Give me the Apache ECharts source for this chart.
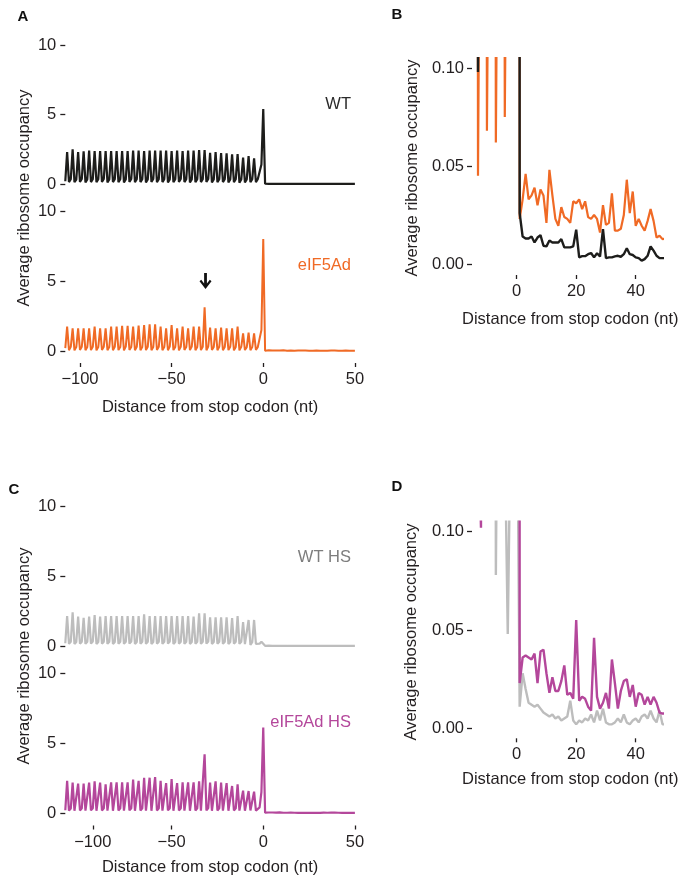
<!DOCTYPE html>
<html><head><meta charset="utf-8">
<script src="https://cdn.jsdelivr.net/npm/echarts@6/dist/echarts.min.js"></script>
<style>html,body{margin:0;padding:0;background:#fff}#c{width:691px;height:884px}</style>
</head><body><div id="c"></div>
<script>
// ---------- DATA ----------
// Profile layout: first nt = -108 (lead value), then 35 codons (peak, dip, mid) at -107..-3,
// then the three stop-region values at -2,-1,0, then tail values at +1..+50.
const firstNt = -108;
const fullTicks = [-100, -50, 0, 50];
const fullTickLabels = ['\u2212100', '\u221250', '0', '50'];
// panel C: in the reference the "−100" tick sits a little right of the true -100 position
const cTicks = [-93, -50, 0, 50];
const cTickLabels = ['\u2212100', '\u221250', '0', '50'];
const zoomTicks = [0, 20, 40];
const occTicks = [0, 5, 10];
const zoomOccTicks = [0, 0.05, 0.10];

// WT
const wtLead = 0.2;
const wtPeaks = [2.3,2.5,2.3,2.35,2.4,2.37,2.37,2.37,2.37,2.37,2.37,2.37,2.4,2.4,2.37,2.4,2.4,2.4,2.4,2.37,2.4,2.37,2.4,2.4,2.45,2.45,2.25,2.3,2.22,2.2,2.13,2.15,1.9,2.0,1.85];
const wtDips  = [0.14,0.13,0.15,0.12,0.14,0.13,0.15,0.12,0.14,0.13,0.12,0.15,0.13,0.14,0.12,0.15,0.13,0.14,0.12,0.13,0.15,0.14,0.12,0.13,0.14,0.15,0.12,0.13,0.14,0.12,0.13,0.098,0.12,0.14,0.13];
const wtMids  = [0.35,0.32,0.36,0.33,0.35,0.34,0.36,0.33,0.35,0.34,0.33,0.36,0.34,0.35,0.33,0.36,0.34,0.35,0.33,0.34,0.36,0.35,0.33,0.34,0.35,0.36,0.33,0.34,0.35,0.33,0.34,0.32,0.33,0.35,0.34];
const wtStop  = [0.45, 1.4, 5.4];
const wtTail  = [0.026,0.014,0.013,0.013,0.014,0.011,0.0135,0.0147,0.0093,0.009,0.012,0.011,0.011,0.011,0.0127,0.0085,0.0085,0.0085,0.009,0.0175,0.0034,0.004,0.004,0.005,0.0056,0.0034,0.0055,0.0038,0.0178,0.003,0.0034,0.0034,0.0039,0.0042,0.0037,0.005,0.008,0.005,0.0046,0.0034,0.003,0.0017,0.0025,0.0042,0.009,0.0068,0.0042,0.003,0.003,0.003];

// eIF5Ad
const ofLead = 0.2;
const ofPeaks = [1.74,1.62,1.62,1.62,1.62,1.74,1.62,1.62,1.74,1.74,1.79,1.79,1.74,1.81,1.86,1.9,1.9,1.74,1.62,1.86,1.62,1.74,1.62,1.74,1.74,3.12,1.67,1.62,1.67,1.62,1.62,1.74,1.26,1.31,1.26];
const ofDips  = [0.06,0.05,0.07,0.055,0.065,0.05,0.07,0.06,0.055,0.065,0.05,0.07,0.06,0.055,0.065,0.05,0.07,0.06,0.055,0.065,0.05,0.07,0.06,0.055,0.065,0.05,0.07,0.06,0.055,0.065,0.05,0.045,0.068,0.062,0.075];
const ofMids  = [0.3,0.28,0.31,0.29,0.3,0.28,0.31,0.29,0.3,0.28,0.31,0.29,0.3,0.28,0.31,0.29,0.3,0.28,0.31,0.29,0.3,0.28,0.31,0.29,0.3,0.32,0.29,0.3,0.28,0.31,0.29,0.3,0.27,0.28,0.27];
const ofStop  = [0.4, 1.5, 8.0];
const ofTail  = [0.0229,0.033,0.046,0.033,0.035,0.039,0.030,0.038,0.035,0.021,0.048,0.035,0.023,0.0195,0.029,0.024,0.023,0.021,0.032,0.031,0.033,0.028,0.032,0.024,0.023,0.025,0.023,0.016,0.030,0.020,0.021,0.036,0.017,0.017,0.018,0.025,0.043,0.026,0.037,0.0195,0.023,0.0195,0.017,0.022,0.028,0.022,0.0135,0.0144,0.0127,0.013];

// WT HS
const grLead = 0.2;
const grPeaks = [2.14,2.4,2.1,2.02,2.1,2.21,2.1,2.14,2.14,2.14,2.14,2.14,2.14,2.14,2.26,2.14,2.14,2.14,2.14,2.14,2.14,2.14,2.14,2.1,2.33,2.33,2.05,2.05,2.05,2.05,2.0,2.14,1.7,1.86,1.86];
const grDips  = [0.15,0.14,0.16,0.15,0.17,0.14,0.16,0.15,0.14,0.16,0.15,0.17,0.14,0.16,0.15,0.14,0.16,0.15,0.17,0.14,0.16,0.15,0.14,0.16,0.15,0.17,0.14,0.16,0.15,0.14,0.16,0.15,0.14,0.078,0.15];
const grMids  = [0.3,0.29,0.31,0.3,0.32,0.29,0.31,0.3,0.29,0.31,0.3,0.32,0.29,0.31,0.3,0.29,0.31,0.3,0.32,0.29,0.31,0.3,0.29,0.31,0.3,0.32,0.29,0.31,0.3,0.29,0.31,0.3,0.28,0.27,0.048];
const grStop  = [0.16, 0.31, 0.2];
const grTail  = [0.011,0.028,0.020,0.013,0.012,0.011,0.012,0.010,0.008,0.007,0.006,0.007,0.005,0.006,0.004,0.005,0.006,0.014,0.004,0.002,0.004,0.003,0.005,0.004,0.007,0.003,0.009,0.004,0.010,0.003,0.002,0.002,0.003,0.005,0.003,0.007,0.003,0.002,0.004,0.005,0.003,0.006,0.007,0.005,0.009,0.005,0.003,0.009,0.002,0.002];

// eIF5Ad HS
const mgLead = 0.2;
const mgPeaks = [2.29,2.17,2.1,2.1,2.17,2.26,2.17,2.05,2.19,2.19,2.19,2.19,2.38,2.29,2.52,2.52,2.57,2.29,2.14,2.43,2.14,2.19,2.19,2.19,2.26,4.19,2.17,2.26,2.17,2.14,1.93,2.05,1.6,1.57,1.52];
const mgDips  = [0.17,0.16,0.18,0.17,0.19,0.16,0.18,0.17,0.16,0.18,0.17,0.19,0.16,0.18,0.17,0.16,0.18,0.17,0.19,0.16,0.18,0.17,0.16,0.18,0.17,0.19,0.16,0.18,0.17,0.16,0.18,0.17,0.16,0.18,0.17];
const mgMids  = [0.32,0.3,0.33,0.31,0.34,0.3,0.33,0.31,0.3,0.33,0.31,0.34,0.3,0.33,0.31,0.3,0.33,0.31,0.34,0.3,0.33,0.31,0.3,0.33,0.31,0.36,0.3,0.33,0.31,0.3,0.33,0.102,0.3,0.29,0.28];
const mgStop  = [0.4, 1.5, 6.1];
const mgTail  = [0.023,0.036,0.037,0.036,0.035,0.038,0.023,0.039,0.040,0.028,0.018,0.026,0.019,0.019,0.024,0.032,0.017,0.018,0.015,0.055,0.014,0.016,0.015,0.011,0.009,0.046,0.016,0.010,0.013,0.018,0.010,0.035,0.023,0.010,0.019,0.024,0.025,0.016,0.022,0.011,0.018,0.017,0.012,0.016,0.012,0.016,0.013,0.008,0.0075,0.0075];

// ---------- build [nt, value] pairs ----------
function buildProfile(lead, peaks, dips, mids, stop, tail) {
  const pts = [];
  let nt = firstNt;
  pts.push([nt++, lead]);
  for (let i = 0; i < peaks.length; i++) {
    pts.push([nt++, peaks[i]]);
    pts.push([nt++, dips[i]]);
    pts.push([nt++, mids[i]]);
  }
  stop.forEach(v => pts.push([nt++, v]));
  tail.forEach(v => pts.push([nt++, v]));
  return pts;
}
const wt = buildProfile(wtLead, wtPeaks, wtDips, wtMids, wtStop, wtTail);
const of = buildProfile(ofLead, ofPeaks, ofDips, ofMids, ofStop, ofTail);
const gr = buildProfile(grLead, grPeaks, grDips, grMids, grStop, grTail);
const mg = buildProfile(mgLead, mgPeaks, mgDips, mgMids, mgStop, mgTail);

// ---------- styles ----------
const FONT = 'Liberation Sans, Arial, Helvetica, sans-serif';
const INK = '#231f20';
const C_WT = '#1d1d1b', C_OF = '#f06a25', C_GR = '#bdbdbd', C_MG = '#b4479b';
const FS = 16.5;
const XNAME = 'Distance from stop codon (nt)';
const YNAME = 'Average ribosome occupancy';
const labeller = (ticks, labels) => v => {
  const i = ticks.indexOf(v);
  return i >= 0 ? labels[i] : '';
};

const FULL = {left: 65.3, width: 289.6};
const ZOOM = {left: 478, width: 184.5};

const grids = [
  {left: FULL.left, width: FULL.width, top: 45, height: 139},
  {left: FULL.left, width: FULL.width, top: 211, height: 140},
  {left: ZOOM.left, width: ZOOM.width, top: 58.2, height: 205.8},
  {left: FULL.left, width: FULL.width, top: 506, height: 140},
  {left: FULL.left, width: FULL.width, top: 673, height: 140},
  {left: ZOOM.left, width: ZOOM.width, top: 521.8, height: 206.5}
].map(g => Object.assign({outerBoundsMode: 'none', containLabel: false}, g));

function xFull(gi, visible, offset, nameGap, ticks, labels) {
  ticks = ticks || fullTicks; labels = labels || fullTickLabels;
  return {
    type: 'value', gridIndex: gi, min: firstNt, max: 50, show: visible,
    offset: offset || 0,
    axisLine: {show: false, onZero: false},
    axisTick: {show: true, length: 4, customValues: ticks, lineStyle: {color: INK, width: 1.3}},
    axisLabel: {customValues: ticks, formatter: labeller(ticks, labels), fontSize: FS, color: INK, margin: 8, fontFamily: FONT},
    splitLine: {show: false},
    name: visible ? XNAME : '', nameLocation: 'middle', nameGap: nameGap || 36,
    nameTextStyle: {fontSize: FS, color: INK, fontFamily: FONT}
  };
}
function xZoom(gi, offset, nameGap) {
  return {
    type: 'value', gridIndex: gi, min: -13, max: 49, offset: offset,
    axisLine: {show: false, onZero: false},
    axisTick: {show: true, length: 4, customValues: zoomTicks, lineStyle: {color: INK, width: 1.3}},
    axisLabel: {customValues: zoomTicks, fontSize: FS, color: INK, margin: 8, fontFamily: FONT},
    splitLine: {show: false},
    name: XNAME, nameLocation: 'middle', nameGap: nameGap,
    nameTextStyle: {fontSize: FS, color: INK, fontFamily: FONT}
  };
}
function yFull(gi) {
  return {
    type: 'value', gridIndex: gi, min: 0, max: 10, interval: 5,
    axisLine: {show: false, onZero: false},
    axisTick: {show: true, length: 5, customValues: occTicks, lineStyle: {color: INK, width: 1.3}},
    axisLabel: {customValues: occTicks, fontSize: FS, color: INK, margin: 9, fontFamily: FONT},
    splitLine: {show: false}
  };
}
function yZoom(gi) {
  return {
    type: 'value', gridIndex: gi, min: 0, max: 0.105, offset: 6,
    axisLine: {show: false, onZero: false},
    axisTick: {show: true, length: 5, customValues: zoomOccTicks, lineStyle: {color: INK, width: 1.3}},
    axisLabel: {customValues: zoomOccTicks, formatter: v => v.toFixed(2), fontSize: FS, color: INK, margin: 8, fontFamily: FONT},
    splitLine: {show: false}
  };
}

function line(xi, data, color, width, extra) {
  return Object.assign({
    type: 'line', xAxisIndex: xi, yAxisIndex: xi, data: data,
    showSymbol: false, symbol: 'none', silent: true, animation: false,
    lineStyle: {color: color, width: width}
  }, extra || {});
}

const arrowPath = 'path://M4.6,0 L7.4,0 L7.4,10.6 L10.3,6.8 L12,8.2 L6,16 L0,8.2 L1.7,6.8 L4.6,10.6 Z';

function txt(text, x, y, color) {
  return {type: 'text', x: x, y: y,
    style: {text: text, fill: color, font: FS + 'px ' + FONT, align: 'right', verticalAlign: 'middle'}};
}
function panelLetter(t, x, y) {
  return {type: 'text', x: x, y: y, style: {text: t, fill: '#111', font: 'bold 15px ' + FONT, align: 'center', verticalAlign: 'middle'}};
}
function yTitle(x, y) {
  return {type: 'text', x: x, y: y, rotation: Math.PI / 2,
    style: {text: YNAME, fill: INK, font: FS + 'px ' + FONT, align: 'center', verticalAlign: 'middle'}};
}

const option = {
  animation: false,
  backgroundColor: '#ffffff',
  textStyle: {fontFamily: FONT},
  grid: grids,
  xAxis: [
    xFull(0, false), xFull(1, true, 12, 36), xZoom(2, 11, 36),
    xFull(3, false), xFull(4, true, 12.5, 33, cTicks, cTickLabels), xZoom(5, 10, 33)
  ],
  yAxis: [yFull(0), yFull(1), yZoom(2), yFull(3), yFull(4), yZoom(5)],
  series: [
    line(0, wt, C_WT, 2.2),
    line(1, of, C_OF, 2.0, {
      markPoint: {
        symbol: arrowPath, symbolSize: [12, 16], silent: true, animation: false,
        itemStyle: {color: '#111'}, label: {show: false},
        data: [{coord: [-31.5, 5.0]}]
      }
    }),
    line(2, of, C_OF, 2.2),
    line(2, wt, C_WT, 2.4),
    line(3, gr, C_GR, 2.2),
    line(4, mg, C_MG, 2.2),
    line(5, gr, C_GR, 2.4),
    line(5, mg, C_MG, 2.4)
  ],
  graphic: {elements: [
    panelLetter('A', 23, 17), panelLetter('B', 397, 15),
    panelLetter('C', 14, 490), panelLetter('D', 397, 487),
    txt('WT', 351, 104, '#2b2b2b'),
    txt('eIF5Ad', 351, 265, C_OF),
    txt('WT HS', 351, 557, '#7d7d7d'),
    txt('eIF5Ad HS', 351, 722, C_MG),
    yTitle(24.5, 198), yTitle(412.5, 168),
    yTitle(24.5, 656), yTitle(411, 632)
  ]}
};

const chart = echarts.init(document.getElementById('c'), null, {renderer: 'canvas'});
chart.setOption(option);
</script>
</body></html>
